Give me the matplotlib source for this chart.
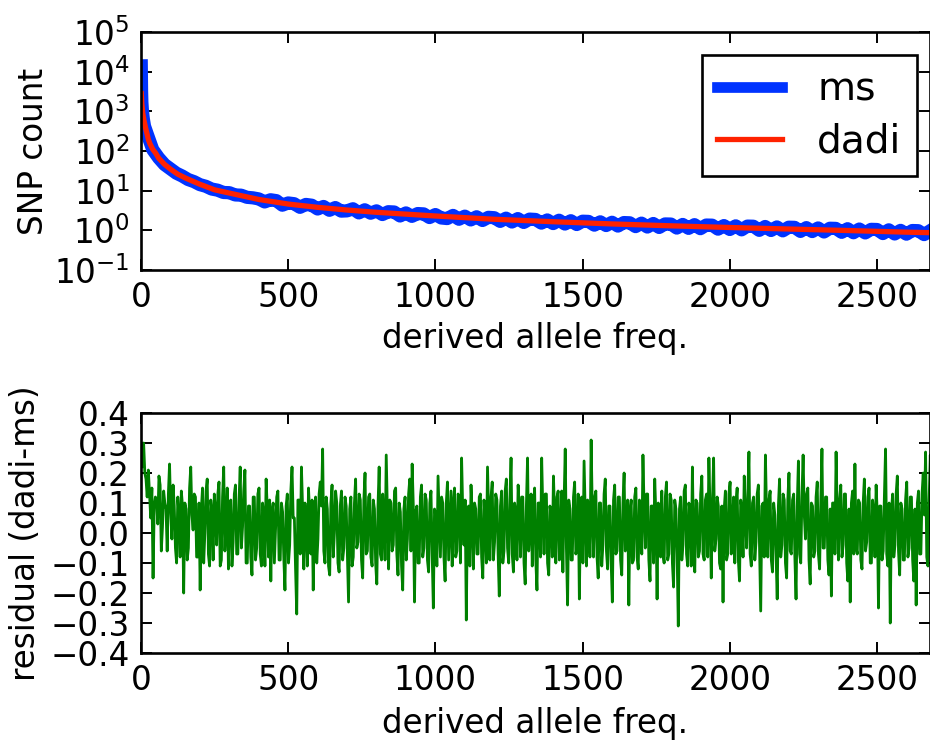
import numpy as np
import matplotlib
matplotlib.use('Agg')
import matplotlib.pyplot as plt

# modelo dadi
x_dadi = [1, 3, 6, 10, 15, 20, 25, 30, 40, 50, 60, 80, 100, 125, 150, 200, 250,
          300, 400, 500, 600, 700, 800, 1000, 1200, 1400, 1600, 1800, 2000,
          2200, 2400, 2600, 2690]
dadi = [2800, 1500, 900, 600, 400, 280, 195, 155, 110, 88, 66, 46, 35, 26, 21,
        14.5, 10.5, 8.7, 6.0, 4.6, 3.8, 3.25, 2.85, 2.3, 1.9, 1.65, 1.45, 1.3,
        1.18, 1.08, 0.99, 0.9, 0.87]

# simulacion ms
x_ms = [1, 2, 3, 5, 8, 12] + list(range(20, 2690, 20))
ms = [14000, 3200, 1700, 1000, 640, 420,
      283, 108, 67, 45.5, 35.5, 27.6, 23.4, 19.1, 16.9, 14.2,
      12.9, 11.0, 10.3, 9.0, 8.9, 7.8, 7.7, 6.8, 6.6, 6.2,
      5.2, 5.9, 5.6, 4.3, 4.9, 4.7, 3.8, 4.5, 4.3, 3.45,
      4.0, 3.2, 3.75, 3.05, 3.1, 3.5, 2.75, 3.3, 2.7, 3.1,
      2.5, 2.95, 2.9, 2.3, 2.75, 2.25, 2.65, 2.6, 2.1, 2.5,
      2.05, 1.98, 2.38, 1.9, 2.28, 1.83, 2.2, 1.77, 2.13, 2.08,
      1.68, 2.03, 1.62, 1.98, 1.58, 1.92, 1.88, 1.52, 1.83, 1.48,
      1.8, 1.44, 1.75, 1.4, 1.7, 1.68, 1.35, 1.64, 1.32, 1.6,
      1.28, 1.57, 1.55, 1.24, 1.52, 1.21, 1.49, 1.18, 1.45, 1.44,
      1.14, 1.41, 1.12, 1.39, 1.1, 1.36, 1.35, 1.07, 1.32, 1.05,
      1.3, 1.03, 1.28, 1.27, 1.0, 1.25, 0.99, 1.22, 0.97, 1.2,
      1.19, 0.94, 1.17, 0.93, 1.15, 0.91, 1.13, 1.12, 0.89, 1.1,
      0.87, 1.08, 0.86, 1.06, 1.05, 0.83, 1.03, 0.81, 1.0, 0.8,
      0.99, 0.98, 0.78, 0.97]

# residuos (dadi-ms)
x_res = list(range(1, 2689, 4))
residual = [
    0.25, 0.22, 0.30, 0.20, 0.18, 0.12, 0.21, 0.13, 0.05, 0.15, -0.15, 0.09,
    0.12, 0.11, 0.03, 0.19, 0.16, -0.06, 0.02, 0.14, 0.10, 0.08, -0.06, 0.13,
    0.23, 0.07, -0.02, 0.16, 0.09, -0.05, -0.10, 0.12, 0.06, -0.08, 0.14, 0.09,
    -0.20, 0.10, 0.08, -0.09, -0.05, 0.15, 0.22, 0.06, 0.01, 0.13, 0.12, -0.08,
    -0.08, 0.10, -0.19, 0.08, 0.15, -0.10, 0.00, 0.14, 0.18, -0.07, -0.11, 0.11,
    0.07, -0.09, 0.13, 0.07, -0.04, 0.13, 0.17, -0.11, -0.09, 0.12, 0.22, -0.06,
    0.04, 0.15, -0.12, 0.10, 0.11, -0.11, -0.03, 0.13, 0.16, -0.07, -0.07, 0.11,
    0.22, -0.05, 0.02, 0.14, 0.21, -0.10, -0.10, 0.09, 0.09, -0.08, -0.14, 0.12,
    0.12, -0.09, -0.05, 0.13, 0.15, -0.07, -0.11, 0.10, 0.06, -0.11, 0.18, 0.08,
    -0.08, 0.11, -0.16, 0.07, 0.10, -0.10, 0.01, 0.12, 0.14, -0.09, -0.09, 0.10,
    0.07, -0.08, -0.19, 0.09, 0.13, -0.10, -0.04, 0.14, 0.22, 0.05, 0.05, -0.12,
    -0.27, 0.11, 0.11, -0.07, 0.22, 0.08, -0.12, 0.10, 0.03, -0.11, 0.15, 0.06,
    -0.07, 0.11, -0.19, 0.07, 0.12, -0.10, -0.02, 0.13, 0.17, 0.09, 0.28, -0.06,
    -0.10, 0.12, 0.08, -0.11, -0.14, 0.10, 0.16, -0.08, 0.00, 0.14, 0.10, -0.10,
    -0.13, 0.09, 0.14, -0.09, -0.05, 0.12, 0.09, -0.07, -0.23, 0.08, 0.12, -0.11,
    -0.08, 0.10, 0.18, -0.05, -0.03, 0.13, 0.11, -0.09, -0.15, 0.11, 0.20, -0.07,
    -0.06, 0.12, 0.13, -0.08, -0.11, 0.11, 0.08, -0.10, -0.17, 0.09, 0.22, -0.07,
    -0.09, 0.13, 0.05, -0.09, 0.26, 0.07, -0.12, 0.11, 0.10, -0.06, -0.04, 0.14,
    0.15, -0.07, -0.14, 0.10, 0.07, -0.11, -0.19, 0.08, 0.12, -0.09, -0.02, 0.13,
    0.18, -0.06, 0.23, 0.09, -0.23, 0.07, 0.09, -0.10, -0.10, 0.12, 0.16, -0.08,
    -0.05, 0.13, 0.11, -0.09, -0.13, 0.10, 0.14, -0.07, -0.25, 0.08, 0.06, -0.11,
    0.19, 0.06, -0.08, 0.12, 0.10, -0.08, -0.16, 0.10, 0.17, -0.09, 0.02, 0.14,
    -0.11, 0.09, 0.15, -0.08, -0.06, 0.13, 0.12, -0.10, 0.25, 0.07, -0.04, 0.11,
    -0.29, 0.08, 0.09, -0.11, 0.16, 0.06, -0.12, 0.10, 0.08, -0.07, -0.07, 0.12,
    0.13, -0.08, -0.15, 0.11, 0.04, -0.10, 0.22, 0.07, -0.09, 0.12, 0.17, -0.09,
    -0.03, 0.13, 0.11, -0.07, -0.21, 0.09, 0.14, -0.10, -0.06, 0.14, 0.18, -0.05,
    -0.10, 0.11, 0.25, -0.07, -0.13, 0.10, 0.07, -0.09, 0.16, 0.08, -0.08, 0.12,
    0.12, -0.10, -0.17, 0.09, 0.25, -0.06, 0.01, 0.13, -0.11, 0.08, 0.15, -0.09,
    -0.19, 0.10, 0.10, -0.08, 0.25, 0.07, -0.07, 0.13, 0.13, -0.10, -0.14, 0.09,
    0.06, -0.08, 0.19, 0.06, -0.10, 0.12, 0.14, -0.09, -0.02, 0.14, -0.13, 0.10,
    0.28, -0.05, -0.24, 0.11, 0.08, -0.09, -0.09, 0.12, 0.17, -0.07, -0.05, 0.13,
    -0.22, 0.08, 0.12, -0.10, 0.24, 0.06, -0.11, 0.11, 0.06, -0.08, 0.31, 0.07,
    -0.08, 0.12, 0.14, -0.08, -0.15, 0.10, 0.10, -0.11, -0.04, 0.13, 0.18, -0.06,
    -0.12, 0.09, 0.09, -0.10, -0.23, 0.11, 0.16, -0.07, -0.06, 0.12, 0.12, -0.09,
    -0.14, 0.10, 0.20, -0.06, -0.03, 0.11, -0.24, 0.07, 0.11, -0.10, -0.09, 0.12,
    0.15, -0.08, -0.12, 0.11, 0.07, -0.07, 0.26, 0.08, -0.05, 0.13, 0.13, -0.09,
    -0.16, 0.09, 0.09, -0.10, 0.18, 0.06, -0.22, 0.10, 0.05, -0.08, 0.14, -0.07,
    -0.10, 0.12, 0.17, -0.09, -0.07, 0.13, 0.11, -0.10, -0.18, 0.11, 0.08, -0.07,
    -0.31, 0.08, 0.12, -0.09, -0.04, 0.14, 0.16, -0.07, -0.11, 0.10, 0.07, -0.11,
    0.22, -0.05, -0.13, 0.11, 0.10, -0.08, -0.06, 0.13, 0.19, -0.07, -0.09, 0.11,
    0.13, -0.08, 0.25, 0.07, -0.15, 0.10, 0.25, -0.06, -0.02, 0.12, 0.09, -0.10,
    -0.12, 0.09, -0.23, 0.08, 0.14, -0.09, -0.07, 0.13, 0.17, -0.07, 0.03, 0.12,
    -0.10, 0.10, 0.15, -0.09, -0.16, 0.11, 0.08, -0.08, 0.19, 0.06, -0.05, 0.12,
    0.27, -0.07, -0.11, 0.10, 0.12, -0.09, -0.03, 0.13, 0.16, -0.05, -0.26, 0.09,
    0.10, -0.08, 0.26, 0.06, -0.08, 0.11, 0.14, -0.09, -0.13, 0.10, 0.06, -0.07,
    -0.22, 0.09, 0.18, -0.08, -0.04, 0.13, 0.11, -0.10, -0.15, 0.11, 0.20, -0.06,
    -0.07, 0.11, 0.13, -0.08, -0.22, 0.09, 0.24, -0.07, -0.10, 0.12, 0.26, 0.06,
    -0.02, 0.13, 0.15, -0.09, -0.17, 0.10, 0.09, -0.08, -0.06, 0.12, 0.17, -0.07,
    -0.12, 0.10, 0.28, -0.05, -0.05, 0.12, 0.12, -0.09, -0.14, 0.08, -0.21, 0.10,
    0.10, -0.07, 0.27, 0.06, -0.09, 0.11, 0.16, -0.08, -0.04, 0.13, 0.13, -0.10,
    -0.16, 0.08, -0.23, 0.10, 0.14, -0.07, 0.23, -0.05, -0.07, 0.11, 0.10, -0.09,
    -0.12, 0.10, 0.18, -0.06, -0.03, 0.12, 0.15, -0.10, -0.10, 0.11, 0.07, -0.08,
    0.16, 0.06, -0.25, 0.09, 0.09, -0.09, -0.06, 0.12, 0.28, -0.07, -0.11, 0.10,
    -0.30, 0.07, 0.13, -0.08, -0.04, 0.13, 0.19, -0.06, -0.14, 0.10, 0.08, -0.09,
    -0.09, 0.11, 0.17, -0.08, -0.05, 0.12, 0.12, -0.09, -0.16, 0.08, -0.24, 0.10,
    0.14, -0.07, -0.07, 0.13, 0.20, 0.06, 0.27, -0.08, -0.11, 0.11, 0.26, 0.09,
]

plt.rcParams['font.size'] = 23.5
plt.rcParams['axes.linewidth'] = 1.9

fig = plt.figure(figsize=(9.3, 7.42), dpi=100)
ax1 = fig.add_axes([0.1516, 0.6361, 0.8484, 0.3208])
ax2 = fig.add_axes([0.1516, 0.1199, 0.8484, 0.3235])

# Grafico 1: espectro de frecuencias
ax1.semilogy(x_ms, ms, color='#0033ff', lw=9.5, label='ms')
ax1.semilogy(x_dadi, dadi, color='#ff2200', lw=3.8, label='dadi')
ax1.set_xlim(0, 2680)
ax1.set_ylim(1e-1, 1e5)
ax1.set_xticks([0, 500, 1000, 1500, 2000, 2500])
ax1.set_yticks([1e-1, 1e0, 1e1, 1e2, 1e3, 1e4, 1e5])
ax1.set_ylabel('SNP count')
ax1.yaxis.set_label_coords(-0.1153, 0.5)
ax1.set_xlabel('derived allele freq.', labelpad=6)
leg = ax1.legend(loc='upper right', bbox_to_anchor=(917 / 930, 1 - 55 / 742),
                 bbox_transform=fig.transFigure, borderaxespad=0,
                 fancybox=False, framealpha=1, edgecolor='black',
                 prop={'size': 28.2}, handlelength=1.65, handletextpad=0.9,
                 labelspacing=0.35, borderpad=0.4)
leg.get_frame().set_linewidth(1.9)
leg.legend_handles[0].set_linewidth(7.7)

# Grafico 2: residuos
ax2.plot(x_res, residual, color='#008000', lw=2.0)
ax2.set_xlim(0, 2680)
ax2.set_ylim(-0.4, 0.4)
ax2.set_xticks([0, 500, 1000, 1500, 2000, 2500])
ax2.set_yticks(np.arange(-0.4, 0.41, 0.1))
ax2.set_ylabel('residual (dadi-ms)')
ax2.yaxis.set_label_coords(-0.1255, 0.5)
ax2.set_xlabel('derived allele freq.', labelpad=7)

for ax in (ax1, ax2):
    ax.tick_params(which='both', direction='in', top=True, right=True, width=1.4)
    ax.tick_params(which='major', length=8, pad=8)
    ax.tick_params(which='minor', length=3.5)

fig.savefig('out.png', dpi=100)
